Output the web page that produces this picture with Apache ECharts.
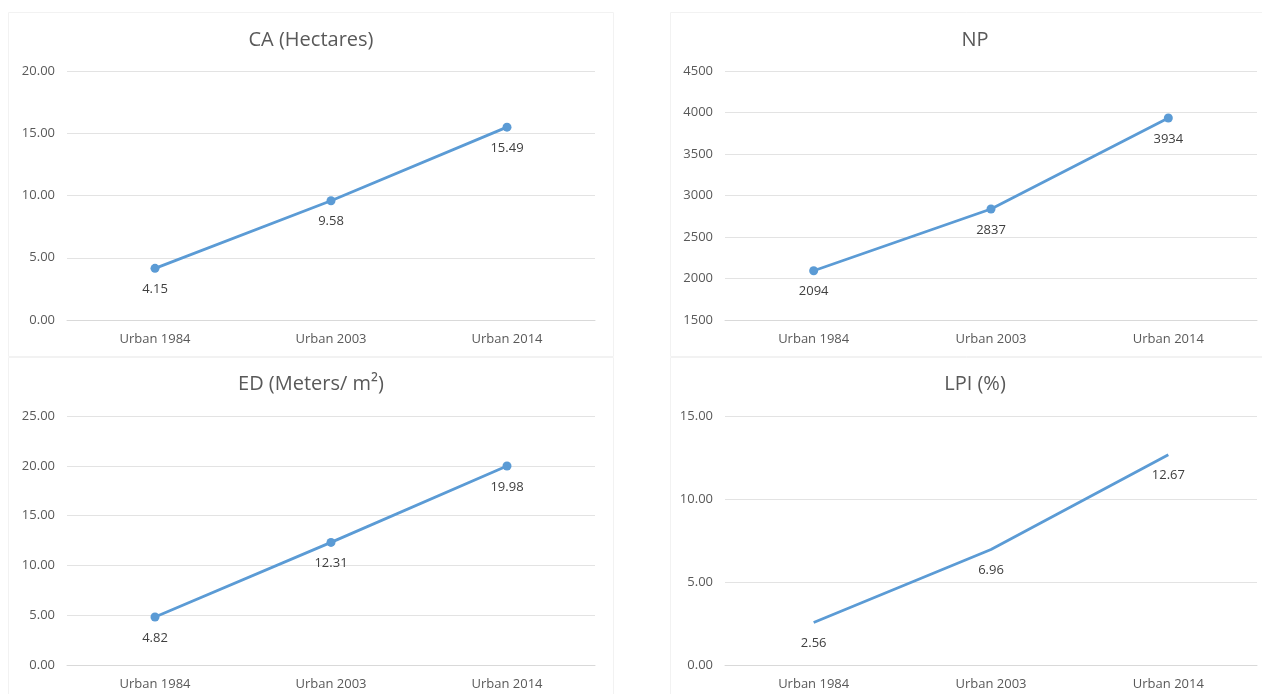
<!DOCTYPE html>
<html>
<head>
<meta charset="utf-8">
<title>Urban landscape metrics</title>
<script src="https://cdn.jsdelivr.net/npm/echarts@6/dist/echarts.min.js"></script>
<style>
  html, body { margin: 0; padding: 0; background: #fff; }
  #chart { width: 1262px; height: 694px; }
</style>
</head>
<body>
<div id="chart"></div>
<script>
// categories shared by the four panels
const categories = ['Urban 1984', 'Urban 2003', 'Urban 2014']

// values
const caValues = [4.15, 9.58, 15.49]
const npValues = [2094, 2837, 3934]
const edValues = [4.82, 12.31, 19.98]
const lpiValues = [2.56, 6.96, 12.67]

// titles
const titles = ['CA (Hectares)', 'NP', 'ED (Meters/ m²)', 'LPI (%)']

// y axis ranges [min, max, interval, decimals]
const yRanges = [
  [0, 20, 5, 2],
  [1500, 4500, 500, 0],
  [0, 25, 5, 2],
  [0, 15, 5, 2]
]

const font = '"Open Sans", "Noto Sans", sans-serif'
const lineColor = '#5B9BD5'

// panel layout (grid boxes in px)
const grids = [
  { left: 67, top: 71, width: 528, height: 249 },
  { left: 725, top: 71, width: 532, height: 249 },
  { left: 67, top: 416, width: 528, height: 249 },
  { left: 725, top: 416, width: 532, height: 249 }
]
const titlePos = [
  { x: 311, y: 30 },
  { x: 975, y: 30 },
  { x: 311, y: 374 },
  { x: 975, y: 374 }
]
const seriesData = [caValues, npValues, edValues, lpiValues]
// LPI panel is drawn without markers
const markerSize = [9, 9, 9, 0]

const chart = echarts.init(document.getElementById('chart'))

const option = {
  backgroundColor: '#fff',
  animation: false,
  textStyle: { fontFamily: font },
  graphic: [
    { type: 'rect', shape: { x: 8.5, y: 12.5, width: 605, height: 344 }, style: { fill: 'none', stroke: '#F2F2F2', lineWidth: 1 }, silent: true },
    { type: 'rect', shape: { x: 670.5, y: 12.5, width: 600, height: 344 }, style: { fill: 'none', stroke: '#F2F2F2', lineWidth: 1 }, silent: true },
    { type: 'rect', shape: { x: 8.5, y: 357.5, width: 605, height: 345 }, style: { fill: 'none', stroke: '#F2F2F2', lineWidth: 1 }, silent: true },
    { type: 'rect', shape: { x: 670.5, y: 357.5, width: 600, height: 345 }, style: { fill: 'none', stroke: '#F2F2F2', lineWidth: 1 }, silent: true }
  ],
  title: titles.map((t, i) => ({
    text: t,
    left: titlePos[i].x - 5,
    top: titlePos[i].y - 5,
    textAlign: 'center',
    textStyle: {
      color: '#595959',
      fontSize: 20,
      fontWeight: 'normal',
      fontFamily: font
    }
  })),
  grid: grids.map(g => ({ ...g, containLabel: false })),
  xAxis: grids.map((g, i) => ({
    type: 'category',
    gridIndex: i,
    data: categories,
    boundaryGap: true,
    axisLine: { lineStyle: { color: '#D9D9D9', width: 1 } },
    axisTick: { show: false },
    axisLabel: { color: '#595959', fontSize: 13, margin: 13, fontFamily: font },
    splitLine: { show: false }
  })),
  yAxis: yRanges.map((r, i) => ({
    type: 'value',
    gridIndex: i,
    min: r[0],
    max: r[1],
    interval: r[2],
    axisLine: { show: false },
    axisTick: { show: false },
    axisLabel: {
      color: '#595959',
      fontSize: 13,
      margin: 12,
      fontFamily: font,
      formatter: v => v.toFixed(r[3])
    },
    splitLine: { lineStyle: { color: '#E3E3E3', width: 1 } }
  })),
  series: seriesData.map((d, i) => ({
    type: 'line',
    xAxisIndex: i,
    yAxisIndex: i,
    data: d,
    symbol: 'circle',
    symbolSize: markerSize[i],
    showSymbol: true,
    lineStyle: { color: lineColor, width: 2.8 },
    itemStyle: { color: lineColor },
    label: {
      show: true,
      position: 'bottom',
      distance: markerSize[i] ? 10 : 14,
      color: '#404040',
      fontSize: 13,
      fontFamily: font,
      formatter: p => (yRanges[i][3] ? p.value.toFixed(2) : String(p.value))
    }
  }))
}

chart.setOption(option)
window.addEventListener('resize', () => {
  chart.resize()
})
</script>
</body>
</html>
